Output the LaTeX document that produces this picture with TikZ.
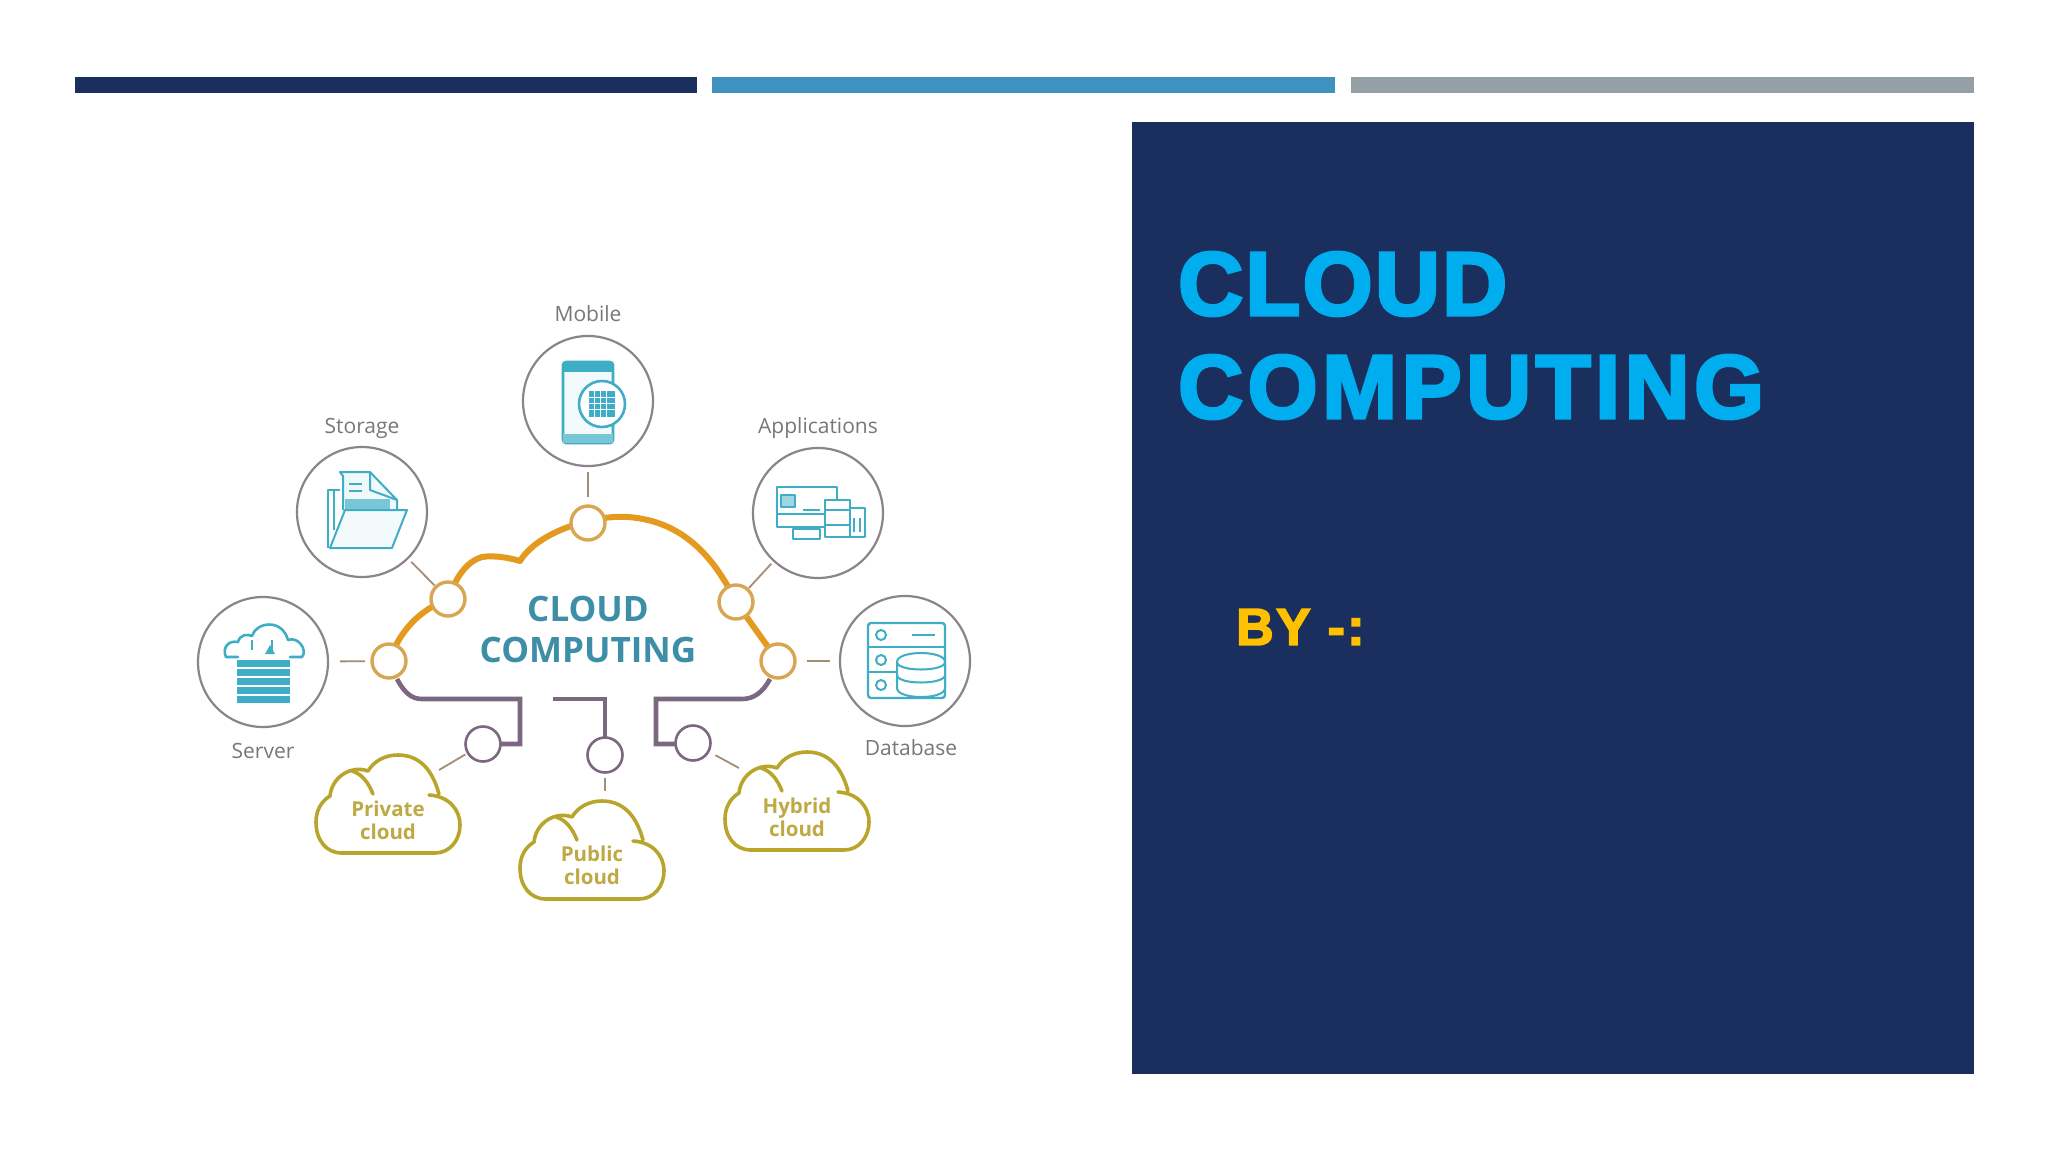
\documentclass[tikz,border=0pt]{standalone}
\usepackage{fontspec}
\setmainfont{Liberation Sans}
\newfontfamily\opensans{Open Sans}
\newfontfamily\heavyfontA[FakeBold=3.5,LetterSpace=2.5]{Liberation Sans Bold}
\newfontfamily\heavyfontB[FakeBold=3.5,LetterSpace=5]{Liberation Sans Bold}
\newfontfamily\heavyfontC[FakeBold=3,LetterSpace=4.5]{Liberation Sans Bold}
\definecolor{navy}{HTML}{1B2F5E}
\definecolor{midblue}{HTML}{3F91BF}
\definecolor{barsilver}{HTML}{95A0A6}
\definecolor{titlecyan}{HTML}{00ADEF}
\definecolor{byyellow}{HTML}{FFC000}
\definecolor{ringgrey}{HTML}{8B8488}
\definecolor{labelgrey}{HTML}{77777C}
\definecolor{cloudorange}{HTML}{E39A1F}
\definecolor{hubgold}{HTML}{D8A650}
\definecolor{pipeplum}{HTML}{7C6780}
\definecolor{icontl}{HTML}{3FADC6}
\definecolor{headteal}{HTML}{3D8FA8}
\definecolor{cloudolive}{HTML}{B9A52C}
\definecolor{cloudtext}{HTML}{BFA945}
\tikzset{
  ring/.style={circle,draw=ringgrey,line width=2.2pt,fill=white,minimum size=130pt,inner sep=0pt,outer sep=0pt},
  hub/.style={circle,draw=hubgold,line width=3.4pt,fill=white,minimum size=34pt,inner sep=0pt,outer sep=0pt},
  port/.style={circle,draw=pipeplum,line width=2.6pt,fill=white,minimum size=35pt,inner sep=0pt,outer sep=0pt},
  spoke/.style={draw=ringgrey!70!hubgold,line width=1.8pt},
  pipe/.style={draw=pipeplum,line width=4.6pt},
  icon/.style={draw=icontl,line width=2pt,line join=round},
  seclabel/.style={text=labelgrey,font=\opensans\fontsize{21}{21}\selectfont,inner sep=0pt},
  cloudlabel/.style={text=cloudtext,font=\opensans\bfseries\fontsize{20.5}{23}\selectfont,align=center,inner sep=0pt},
  bar/.style={inner sep=0pt,outer sep=0pt},
  pics/smallcloud/.style={code={
    \draw[draw=cloudolive,line width=3.6pt,line cap=round,line join=round]
      (-46,49) -- (47,49)
      .. controls (62,49) and (72,36) .. (72,21)
      .. controls (72,5) and (60,-8) .. (41,-9)
      (51,-10) .. controls (44,-36) and (30,-49) .. (10,-49)
      .. controls (-3,-49) and (-14,-43) .. (-20,-33)
      .. controls (-36,-39) and (-56,-28) .. (-58,-8)
      .. controls (-68,-2) and (-72,8) .. (-72,18)
      .. controls (-72,36) and (-62,49) .. (-46,49)
      (-36,-33) .. controls (-26,-30) and (-20,-22) .. (-15,-10);
  }}
}
\begin{document}
\begin{tikzpicture}[x=1pt,y=-1pt]
\useasboundingbox (0,0) rectangle (2048,1152);
\fill[white] (0,0) rectangle (2048,1152);
% top bars
\node[bar,fill=navy,minimum width=622pt,minimum height=16pt,anchor=north west] (barA) at (75,77) {};
\node[bar,fill=midblue,minimum width=623pt,minimum height=16pt,anchor=north west] (barB) at (712,77) {};
\node[bar,fill=barsilver,minimum width=623pt,minimum height=16pt,anchor=north west] (barC) at (1351,77) {};
% panel
\node[bar,fill=navy,minimum width=842pt,minimum height=952pt,anchor=north west] (panel) at (1132,122) {};
\node[anchor=west,inner sep=0pt,text=titlecyan,font=\heavyfontA\fontsize{90}{90}\selectfont] (titleA) at (1178,284) {CLOUD};
\node[anchor=west,inner sep=0pt,text=titlecyan,font=\heavyfontB\fontsize{90}{90}\selectfont] (titleB) at (1178,387) {COMPUTING};
\node[anchor=west,inner sep=0pt,text=byyellow,font=\heavyfontC\fontsize{52}{52}\selectfont] (byline) at (1236,627) {BY -:};

% big cloud outline
\draw[draw=cloudorange,line width=6pt,line join=round]
  (389,661) .. controls (400,630) and (420,610) .. (448,599)
  .. controls (455,580) and (465,562) .. (482,557)
  .. controls (495,555) and (510,558) .. (520,561)
  .. controls (530,545) and (552,530) .. (588,521)
  .. controls (610,516) and (625,516) .. (637,518)
  .. controls (680,524) and (712,552) .. (736,602)
  -- (778,661);
% pipe corners
\coordinate (pL0) at (397,679);
\coordinate (pL1) at (422,699);
\coordinate (pL2) at (520,699);
\coordinate (pL3) at (520,744);
\coordinate (pM1) at (553,699);
\coordinate (pM2) at (605,699);
\coordinate (pR0) at (770,679);
\coordinate (pR1) at (742,699);
\coordinate (pR2) at (656,699);
\coordinate (pR3) at (656,744);

\node[hub] (hubA) at (389,661) {};
\node[hub] (hubB) at (448,599) {};
\node[hub] (hubC) at (588,523) {};
\node[hub] (hubD) at (736,602) {};
\node[hub] (hubE) at (778,661) {};

\draw[pipe] (pL0) .. controls (404,692) and (411,699) .. (pL1) -- (pL2) -- (pL3) -- (483,744);
\draw[pipe] (pM1) -- (pM2) -- (605,740);
\draw[pipe] (pR0) .. controls (763,692) and (754,699) .. (pR1) -- (pR2) -- (pR3) -- (693,744);
\node[port] (portA) at (483,744) {};
\node[port] (portB) at (605,755) {};
\node[port] (portC) at (693,743) {};

% rings
\node[ring] (server) at (263,662) {};
\node[ring] (storage) at (362,512) {};
\node[ring] (mobile) at (588,401) {};
\node[ring] (apps) at (818,513) {};
\node[ring] (database) at (905,661) {};

% spokes
\draw[spoke,shorten <=12pt,shorten >=7pt] (server) -- (hubA);
\draw[spoke,shorten <=5pt,shorten >=2pt] (storage) -- (hubB);
\draw[spoke,shorten <=6pt,shorten >=9pt] (mobile) -- (hubC);
\draw[spoke,shorten <=4pt,shorten >=2pt] (apps) -- (hubD);
\draw[spoke,shorten <=10pt,shorten >=12pt] (database) -- (hubE);

% small clouds
\pic (cloudPriv) at (388,804) {smallcloud};
\pic (cloudPub) at (592,850) {smallcloud};
\pic (cloudHyb) at (797,801) {smallcloud};
\coordinate (tipPriv) at (439,770);
\coordinate (tipPub) at (605,791);
\coordinate (tipHyb) at (739,768);
\draw[spoke,shorten <=3pt] (portA) -- (tipPriv);
\draw[spoke,shorten <=5pt] (portB) -- (tipPub);
\draw[spoke,shorten <=8pt] (portC) -- (tipHyb);

% labels
\node[text=headteal,font=\opensans\bfseries\fontsize{35}{35}\selectfont,inner sep=0pt] (headA) at (588,609) {CLOUD};
\node[text=headteal,font=\opensans\bfseries\fontsize{35}{35}\selectfont,inner sep=0pt] (headB) at (588,650) {COMPUTING};
\node[seclabel] (lblMobile) at (588,314) {Mobile};
\node[seclabel] (lblStorage) at (362,428) {Storage};
\node[seclabel] (lblApps) at (818,428) {Applications};
\node[seclabel] (lblServer) at (263,751) {Server};
\node[seclabel] (lblDb) at (911,748) {Database};
\node[cloudlabel] (lblPriv) at (388,820) {Private\\cloud};
\node[cloudlabel] (lblPub) at (592,865) {Public\\cloud};
\node[cloudlabel] (lblHyb) at (797,817) {Hybrid\\cloud};

% folder icon
\draw[icon,fill=icontl!8] (343,510) -- (343,476) -- (340,472) -- (370,472) -- (397,500) -- (397,510);
\draw[icon] (370,472) -- (370,490) -- (397,500);
\draw[icon] (349,484) -- (362,484) (349,491) -- (362,491);
\fill[icontl!70] (345,499) rectangle (390,510);
\draw[icon] (340,490) -- (328,490) -- (328,548) (334,490) -- (334,530);
\draw[icon,fill=icontl!6] (330,548) -- (392,548) -- (407,510) -- (345,510) -- cycle;

% server icon
\draw[icon,line width=2.6pt,line cap=round] (238,657) -- (226,657) .. controls (222,648) and (228,640) .. (238,642)
  .. controls (240,634) and (248,634) .. (252,636)
  .. controls (256,622) and (282,618) .. (288,640)
  .. controls (298,636) and (308,650) .. (302,657) -- (290,657);
\draw[icon] (252,640) -- (252,650) (272,640) -- (272,650);
\fill[icontl] (270,645) -- (275,654) -- (265,654) -- cycle;
\foreach \yy in {660,669,678,687,696}
  \fill[icontl] (237,\yy) rectangle (290,\yy+6.5);

% mobile icon
\draw[icon,line width=2.6pt,rounded corners=3pt,fill=icontl!6] (563,362) rectangle (613,443);
\fill[icontl] (563,362) rectangle (613,372);
\fill[icontl!70] (563,434) rectangle (613,443);
\draw[icon,line width=2.6pt,fill=white] (602,404) circle[radius=23];
\fill[icontl] (589,391) rectangle (615,417);
\foreach \xx in {594,600,606}{\draw[white,line width=.8pt] (\xx,391) -- (\xx,417);}
\foreach \yy in {397,403,409}{\draw[white,line width=.8pt] (589,\yy) -- (615,\yy);}

% applications icon
\draw[icon] (777,487) rectangle (837,527);
\draw[icon] (777,514) -- (825,514);
\draw[icon,fill=icontl!50] (781,495) rectangle (795,507);
\draw[icon] (803,510) -- (820,510);
\draw[icon,fill=white] (825,500) rectangle (850,537);
\draw[icon] (825,510) -- (850,510) (825,525) -- (850,525);
\draw[icon,fill=white] (850,508) rectangle (865,537);
\draw[icon] (854,518) -- (854,532) (860,518) -- (860,532);
\draw[icon,fill=white] (793,529) rectangle (820,539);

% database icon
\draw[icon,rounded corners=3pt,line width=2.4pt] (868,623) rectangle (945,698);
\draw[icon] (868,647) -- (945,647) (868,672) -- (896,672);
\draw[icon] (881,635) circle[radius=5] (881,660) circle[radius=5] (881,685) circle[radius=5];
\draw[icon] (912,635) -- (935,635);
\draw[icon,fill=white] (897,662) .. controls (897,650) and (945,650) .. (945,662) -- (945,688)
  .. controls (945,700) and (897,700) .. (897,688) -- cycle;
\draw[icon] (897,662) .. controls (897,672) and (945,672) .. (945,662)
  (897,675) .. controls (897,685) and (945,685) .. (945,675);
\end{tikzpicture}
\end{document}
